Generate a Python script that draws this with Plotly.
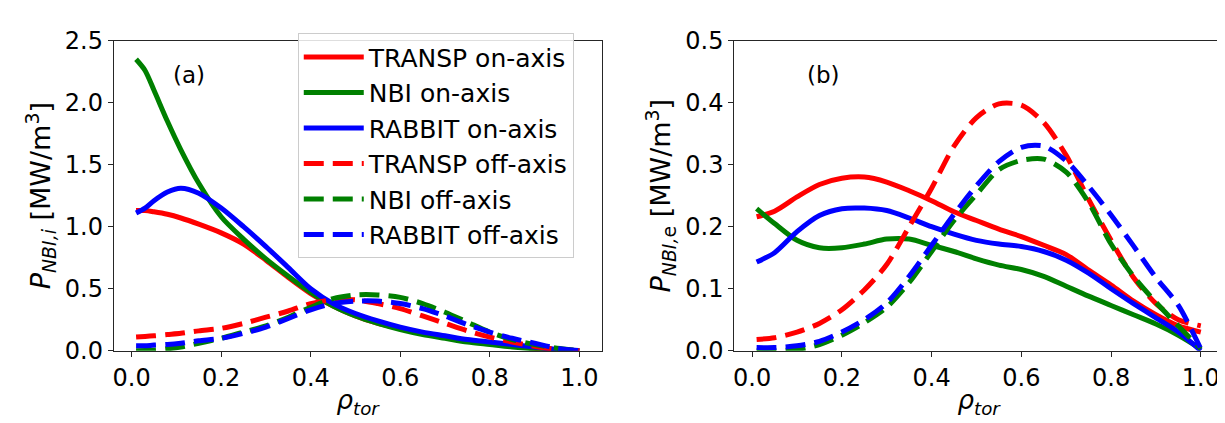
import plotly.graph_objects as go

# ---------- data: panel (a) ion heating ----------
x_a = [0.01, 0.03, 0.05, 0.08, 0.11, 0.15, 0.2, 0.25, 0.3, 0.35, 0.4, 0.45, 0.5, 0.55, 0.6, 0.65, 0.7, 0.75, 0.8, 0.85, 0.9, 0.95, 1.0]
transp_on_a = [1.13, 1.13, 1.12, 1.10, 1.07, 1.02, 0.95, 0.86, 0.73, 0.59, 0.46, 0.36, 0.28, 0.22, 0.18, 0.14, 0.11, 0.08, 0.06, 0.04, 0.02, 0.01, 0.0]
nbi_on_a = [2.35, 2.26, 2.10, 1.85, 1.62, 1.35, 1.08, 0.90, 0.74, 0.60, 0.47, 0.36, 0.28, 0.22, 0.17, 0.13, 0.10, 0.07, 0.05, 0.03, 0.015, 0.005, 0.0]
rabbit_on_a = [1.11, 1.15, 1.21, 1.28, 1.31, 1.27, 1.15, 1.00, 0.84, 0.67, 0.50, 0.38, 0.30, 0.24, 0.19, 0.15, 0.12, 0.09, 0.07, 0.05, 0.03, 0.01, 0.0]
transp_off_a = [0.11, 0.115, 0.12, 0.13, 0.14, 0.16, 0.18, 0.22, 0.27, 0.32, 0.38, 0.41, 0.41, 0.38, 0.34, 0.28, 0.22, 0.16, 0.11, 0.07, 0.035, 0.01, 0.0]
nbi_off_a = [0.0, 0.002, 0.005, 0.015, 0.03, 0.06, 0.10, 0.15, 0.20, 0.27, 0.35, 0.42, 0.45, 0.45, 0.43, 0.38, 0.31, 0.23, 0.15, 0.09, 0.05, 0.02, 0.0]
rabbit_off_a = [0.04, 0.04, 0.045, 0.05, 0.06, 0.08, 0.10, 0.14, 0.19, 0.26, 0.33, 0.38, 0.40, 0.40, 0.38, 0.34, 0.28, 0.21, 0.15, 0.10, 0.06, 0.02, 0.0]

# ---------- data: panel (b) electron heating ----------
x_b = [0.01, 0.05, 0.1, 0.15, 0.2, 0.25, 0.3, 0.35, 0.4, 0.45, 0.5, 0.55, 0.6, 0.65, 0.7, 0.75, 0.8, 0.85, 0.9, 0.95, 1.0]
transp_on_b = [0.216, 0.225, 0.248, 0.268, 0.278, 0.280, 0.272, 0.258, 0.242, 0.224, 0.210, 0.196, 0.184, 0.170, 0.155, 0.130, 0.106, 0.080, 0.058, 0.040, 0.030]
nbi_on_b = [0.229, 0.205, 0.178, 0.166, 0.166, 0.172, 0.180, 0.180, 0.170, 0.160, 0.148, 0.138, 0.131, 0.120, 0.104, 0.088, 0.073, 0.058, 0.043, 0.025, 0.003]
rabbit_on_b = [0.143, 0.158, 0.192, 0.218, 0.229, 0.230, 0.226, 0.214, 0.200, 0.188, 0.178, 0.172, 0.168, 0.160, 0.146, 0.125, 0.100, 0.076, 0.053, 0.030, 0.0]
transp_off_b = [0.018, 0.021, 0.030, 0.044, 0.066, 0.098, 0.139, 0.200, 0.262, 0.330, 0.376, 0.398, 0.396, 0.368, 0.315, 0.244, 0.178, 0.118, 0.076, 0.050, 0.040]
nbi_off_b = [0.0, 0.0, 0.002, 0.010, 0.025, 0.045, 0.070, 0.110, 0.160, 0.210, 0.252, 0.292, 0.307, 0.309, 0.288, 0.239, 0.172, 0.120, 0.078, 0.040, 0.003]
rabbit_off_b = [0.005, 0.005, 0.008, 0.015, 0.030, 0.050, 0.077, 0.120, 0.170, 0.220, 0.266, 0.305, 0.328, 0.330, 0.306, 0.265, 0.219, 0.169, 0.118, 0.073, 0.003]

labels = ["TRANSP on-axis", "NBI on-axis", "RABBIT on-axis",
          "TRANSP off-axis", "NBI off-axis", "RABBIT off-axis"]
colors = ["#ff0000", "#008000", "#0000ff", "#ff0000", "#008000", "#0000ff"]
dashes = ["solid", "solid", "solid", "20px,9px", "20px,9px", "20px,9px"]

FONT = "DejaVu Sans"
fig = go.Figure()

series_a = [transp_on_a, nbi_on_a, rabbit_on_a, transp_off_a, nbi_off_a, rabbit_off_a]
series_b = [transp_on_b, nbi_on_b, rabbit_on_b, transp_off_b, nbi_off_b, rabbit_off_b]

for i, ys in enumerate(series_a):
    fig.add_trace(go.Scatter(x=x_a, y=ys, mode="lines", name=labels[i],
                             line=dict(color=colors[i], width=5, dash=dashes[i], shape="spline", smoothing=0.8),
                             xaxis="x", yaxis="y", showlegend=True))
for i, ys in enumerate(series_b):
    fig.add_trace(go.Scatter(x=x_b, y=ys, mode="lines", name=labels[i],
                             line=dict(color=colors[i], width=5, dash=dashes[i], shape="spline", smoothing=0.8),
                             xaxis="x2", yaxis="y2", showlegend=False))

W, H = 1225, 423
axcommon = dict(showline=True, mirror=True, linecolor="#262626", linewidth=1.2,
                ticks="outside", ticklen=5, tickwidth=1.2, tickcolor="#262626",
                showgrid=False, zeroline=False,
                tickfont=dict(family=FONT, size=24, color="black"))

xt = [0.0, 0.2, 0.4, 0.6, 0.8, 1.0]
fig.update_layout(
    width=W, height=H,
    margin=dict(l=0, r=0, t=0, b=0),
    plot_bgcolor="white", paper_bgcolor="white",
    font=dict(family=FONT, color="black"),
    xaxis=dict(domain=[105 / W, 593 / W], range=[-0.0395, 1.0495], tickvals=xt, tickformat=".1f",
               anchor="y",
               title=dict(text="<i>ρ</i><sub><i>tor</i></sub>", font=dict(family=FONT, size=26), standoff=0),
               **axcommon),
    yaxis=dict(domain=[1 - 352 / H, 1 - 20 / H], range=[0, 2.5], tickvals=[0, 0.5, 1.0, 1.5, 2.0, 2.5],
               tickformat=".1f", anchor="x",
               title=dict(text="<i>P</i><sub><i>NBI,i</i></sub> [MW/m<sup>3</sup>]", font=dict(family=FONT, size=27), standoff=6),
               **axcommon),
    xaxis2=dict(domain=[726 / W, 1215 / W], range=[-0.0395, 1.0495], tickvals=xt, tickformat=".1f",
                anchor="y2",
                title=dict(text="<i>ρ</i><sub><i>tor</i></sub>", font=dict(family=FONT, size=26), standoff=0),
                **axcommon),
    yaxis2=dict(domain=[1 - 352 / H, 1 - 20 / H], range=[0, 0.5], tickvals=[0, 0.1, 0.2, 0.3, 0.4, 0.5],
                tickformat=".1f", anchor="x2",
                title=dict(text="<i>P</i><sub><i>NBI,</i>e</sub> [MW/m<sup>3</sup>]", font=dict(family=FONT, size=27), standoff=6),
                **axcommon),
    legend=dict(x=289 / W, y=1 - 12 / H, xanchor="left", yanchor="top",
                xref="paper", yref="paper",
                bgcolor="rgba(255,255,255,0.85)", bordercolor="#cccccc", borderwidth=1,
                font=dict(family=FONT, size=25, color="black"),
                itemwidth=60, tracegroupgap=0),
    annotations=[
        dict(text="(a)", x=180 / W, y=1 - 57 / H, xref="paper", yref="paper", showarrow=False,
             font=dict(family=FONT, size=23, color="black"), xanchor="center", yanchor="middle"),
        dict(text="(b)", x=815 / W, y=1 - 57 / H, xref="paper", yref="paper", showarrow=False,
             font=dict(family=FONT, size=23, color="black"), xanchor="center", yanchor="middle"),
    ],
)

fig.write_html("out.html")
